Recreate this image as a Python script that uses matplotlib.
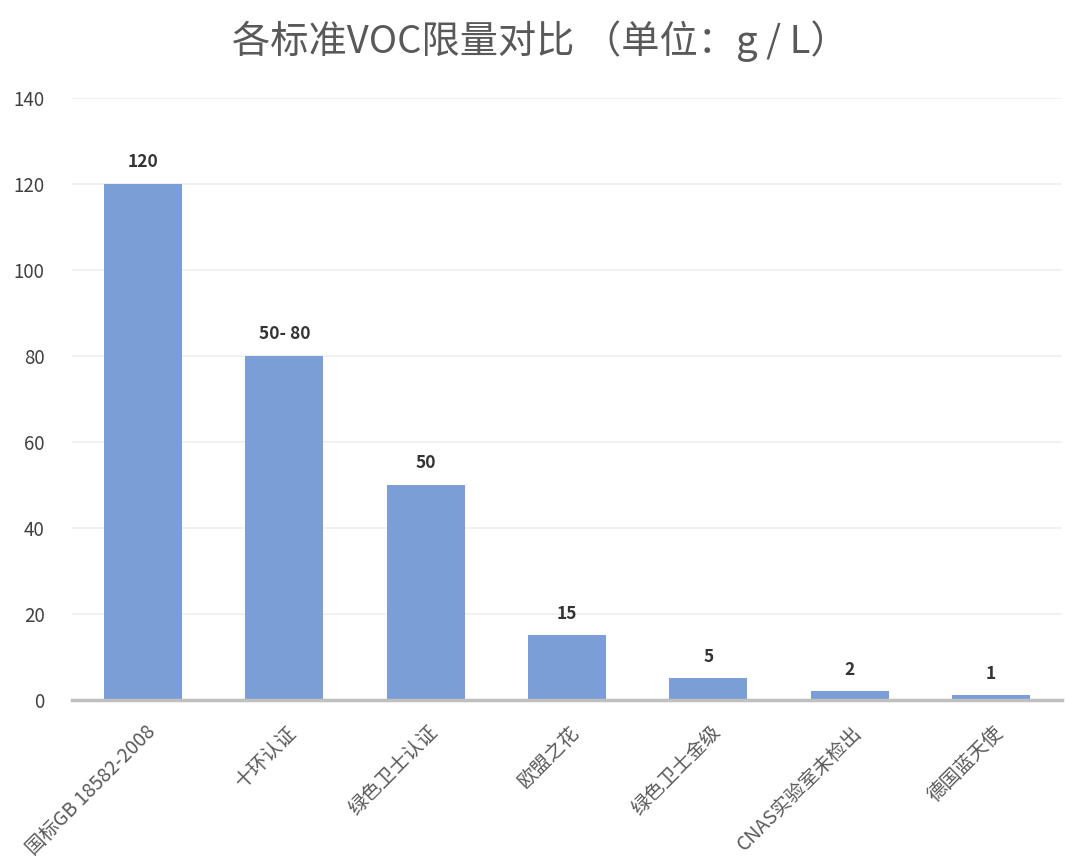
import matplotlib.pyplot as plt
import matplotlib.transforms as mtransforms

plt.rcParams['font.family'] = ['Noto Sans CJK SC', 'DejaVu Sans']

# chart data
categories = ['国标GB 18582-2008', '十环认证', '绿色卫士认证', '欧盟之花',
              '绿色卫士金级', 'CNAS实验室未检出', '德国蓝天使']
values = [120, 80, 50, 15, 5, 2, 1]
bar_labels = ['120', '50- 80', '50', '15', '5', '2', '1']
y_ticks = [0, 20, 40, 60, 80, 100, 120, 140]

fig = plt.figure(figsize=(10.8, 8.67), dpi=100)
ax = fig.add_axes([0.067, 0.193, 0.916, 0.694])

x = range(len(categories))
bars = ax.bar(x, values, width=0.55, color='#7B9ED6', zorder=2)

for b, lab in zip(bars, bar_labels):
    ax.annotate(lab, (b.get_x() + b.get_width() / 2, b.get_height()),
                xytext=(0, 9), textcoords='offset points',
                ha='center', va='bottom', fontsize=12.5, fontweight='bold',
                color='#333333')

ax.set_xlim(-0.5, len(categories) - 0.5)
ax.set_ylim(0, 140)
ax.set_yticks(y_ticks)
ax.tick_params(axis='y', length=0, pad=20, labelsize=13.5, labelcolor='#404040')
ax.yaxis.grid(True, color='#EFEFEF', linewidth=1.2, zorder=0)

ax.set_xticks(list(x))
ax.set_xticklabels(categories, rotation=45, ha='right', rotation_mode='anchor',
                   fontsize=14, color='#595959')
ax.tick_params(axis='x', length=0, pad=16)
offset = mtransforms.ScaledTranslation(0.02, 0, fig.dpi_scale_trans)
for t in ax.get_xticklabels():
    t.set_transform(t.get_transform() + offset)

for side in ['top', 'right', 'left']:
    ax.spines[side].set_visible(False)
ax.spines['bottom'].set_color('#BFBFBF')
ax.spines['bottom'].set_linewidth(2.5)
ax.spines['bottom'].set_zorder(3)

fig.text(0.5, 0.953, '各标准VOC限量对比 （单位：g / L）', ha='center', va='center',
         fontsize=27.5, color='#595959')

fig.savefig('out.png', dpi=100, facecolor='white')
